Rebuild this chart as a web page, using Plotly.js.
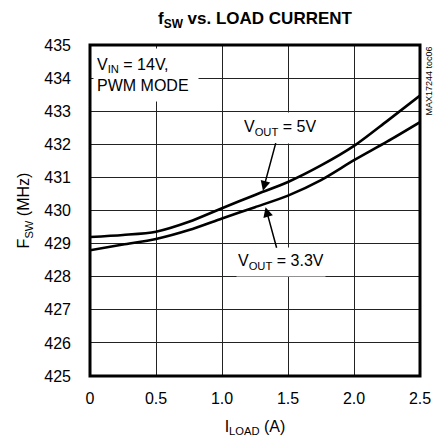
<!DOCTYPE html>
<html>
<head>
<meta charset="utf-8">
<script src="https://cdn.plot.ly/plotly-3.0.1.min.js"></script>
<style>html,body{margin:0;padding:0;background:#fff;}#chart{width:440px;height:441px;}</style>
</head>
<body>
<div id="chart"></div>
<script>
const iload = [0, 0.25, 0.5, 0.75, 1.0, 1.25, 1.5, 1.75, 2.0, 2.25, 2.5];
const fsw5v = [429.2, 429.26, 429.36, 429.66, 430.07, 430.47, 430.86, 431.36, 431.95, 432.7, 433.47];
const fsw33v = [428.8, 428.97, 429.14, 429.41, 429.76, 430.1, 430.45, 430.92, 431.52, 432.08, 432.67];
const xTicks = [0, 0.5, 1.0, 1.5, 2.0, 2.5];
const xTickText = ['0', '0.5', '1.0', '1.5', '2.0', '2.5'];
const yTicks = [425, 426, 427, 428, 429, 430, 431, 432, 433, 434, 435];

const FONT = 'Liberation Sans, Arial, sans-serif';
const traces = [
  {x: iload, y: fsw5v, mode: 'lines', line: {color: '#000', width: 2.6, shape: 'spline', smoothing: 0.8}, hoverinfo: 'skip'},
  {x: iload, y: fsw33v, mode: 'lines', line: {color: '#000', width: 2.6, shape: 'spline', smoothing: 0.8}, hoverinfo: 'skip'}
];
const layout = {
  width: 440, height: 441,
  margin: {l: 90, r: 20, t: 45, b: 65},
  paper_bgcolor: '#fff', plot_bgcolor: '#fff',
  showlegend: false,
  font: {family: FONT, size: 16, color: '#000'},
  title: {text: '<b>f<sub>SW</sub> vs. LOAD CURRENT</b>', font: {family: FONT, size: 17, color: '#000'},
          x: 0.5, xref: 'paper', y: 1 - 18/441, yref: 'container', yanchor: 'middle'},
  xaxis: {range: [0, 2.5], tickvals: xTicks, ticktext: xTickText, ticks: '', showgrid: true,
          gridcolor: '#222', gridwidth: 1, zeroline: false, showline: false,
          tickfont: {family: FONT, size: 16}, ticklabelstandoff: 11,
          title: {text: 'I<sub>LOAD</sub> (A)', font: {family: FONT, size: 16}, standoff: 14}},
  yaxis: {range: [425, 435], tickvals: yTicks, ticks: '', showgrid: true,
          gridcolor: '#222', gridwidth: 1, zeroline: false, showline: false,
          tickfont: {family: FONT, size: 16}, ticklabelstandoff: 18,
          title: {text: 'F<sub>SW</sub> (MHz)', font: {family: FONT, size: 16}, standoff: 10}},
  shapes: [
    {type: 'rect', xref: 'paper', yref: 'paper', x0: 0, x1: 1, y0: 0, y1: 1,
     line: {color: '#000', width: 3}, layer: 'above'}
  ],
  annotations: [
    {xref: 'paper', yref: 'paper', x: 3/330, y: 1 - 3/331, xanchor: 'left', yanchor: 'top',
     text: 'V<sub>IN</sub> = 14V,<br>PWM MODE', align: 'left', showarrow: false,
     bgcolor: '#fff', width: 98, height: 46, borderpad: 3, font: {family: FONT, size: 16}},
    {x: 1.31, y: 430.6, xref: 'x', yref: 'y', text: 'V<sub>OUT</sub> = 5V', showarrow: true,
     ax: 17, ay: -63, arrowhead: 2, arrowsize: 1.3, arrowwidth: 1.5, arrowcolor: '#000',
     bgcolor: '#fff', height: 28, borderpad: 1, font: {family: FONT, size: 16}},
    {x: 1.33, y: 430.1, xref: 'x', yref: 'y', text: 'V<sub>OUT</sub> = 3.3V', showarrow: true,
     ax: 15, ay: 55, arrowhead: 2, arrowsize: 1.3, arrowwidth: 1.5, arrowcolor: '#000',
     bgcolor: '#fff', height: 26, borderpad: 1, font: {family: FONT, size: 16}},
    {xref: 'paper', yref: 'paper', x: 1 + 8/330, y: 1, xanchor: 'center', yanchor: 'top',
     text: 'MAX17244 toc06', textangle: -90, showarrow: false, font: {family: FONT, size: 9}}
  ]
};
Plotly.newPlot('chart', traces, layout, {staticPlot: true, displayModeBar: false});
</script>
</body>
</html>
